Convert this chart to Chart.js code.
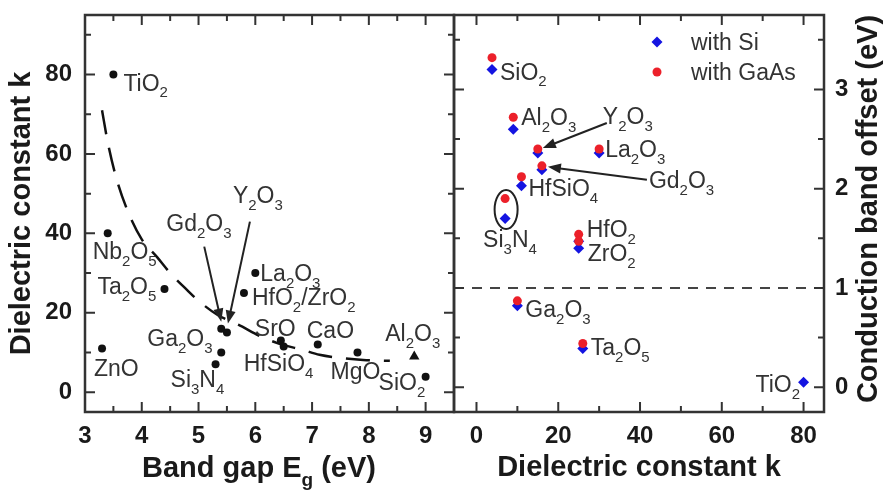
<!DOCTYPE html>
<html>
<head>
<meta charset="utf-8">
<script src="https://cdn.jsdelivr.net/npm/chart.js@4.4.1/dist/chart.umd.min.js"></script>
<style>
  body { margin: 0; background: #fff; }
  #wrap { position: relative; width: 883px; height: 491px; }
  #wrap canvas { position: absolute; left: 0; top: 0; }
</style>
</head>
<body>
<div id="wrap">
  <canvas id="gapChart" width="883" height="491"></canvas>
  <canvas id="offsetChart" width="883" height="491"></canvas>
</div>
<script>
const FONT = '"Liberation Sans", Arial, sans-serif';
const INK = '#1a1a1a';
const LABEL_INK = '#333';
const BLUE = 'rgb(20,20,225)';
const RED = 'rgb(236,32,42)';

// left panel: band gap vs dielectric constant
const oxides  = ['TiO2', 'Nb2O5', 'Ta2O5', 'ZnO', 'Gd2O3', 'Y2O3', 'Ga2O3', 'Si3N4', 'La2O3', 'HfO2/ZrO2', 'SrO', 'HfSiO4', 'CaO', 'MgO', 'Al2O3', 'SiO2'];
const bandGap = [3.5, 3.4, 4.4, 3.3, 5.4, 5.5, 5.4, 5.3, 6.0, 5.8, 6.45, 6.5, 7.1, 7.8, 8.8, 9.0];
const kValue  = [80, 40, 26, 11, 16, 15, 10, 7, 30, 25, 13, 11.5, 12, 10, 9, 3.9];

// dashed trend line
const fitGap = [3.3, 3.4, 3.55, 3.77, 4.0, 4.27, 4.5, 4.8, 5.0, 5.33, 5.7, 6.1, 6.4, 6.84, 7.13, 7.57, 7.9, 8.37];
const fitK   = [71, 63, 54, 45, 38.5, 34, 30, 25.7, 23, 19.5, 17, 14, 12.3, 10.6, 9.4, 8.5, 8.1, 7.9];

const gapRange = [3, 9.5];
const gapMajor = [3, 4, 5, 6, 7, 8, 9];
const gapMinor = [3.5, 4.5, 5.5, 6.5, 7.5, 8.5];
const kRangeLeft = [-5, 95];
const kMajor = [0, 20, 40, 60, 80];
const kMinor = [10, 30, 50, 70, 90];

// right panel: conduction band offset vs k
const cboOxides = ['SiO2', 'Al2O3', 'Y2O3', 'La2O3', 'Gd2O3', 'HfSiO4', 'Si3N4', 'HfO2', 'ZrO2', 'Ga2O3', 'Ta2O5', 'TiO2'];
const cboK     = [3.8, 9, 15, 30, 16, 11, 7, 25, 25, 10, 26, 80];
const cboSi    = [3.2, 2.6, 2.36, 2.36, 2.19, 2.03, 1.7, 1.47, 1.4, 0.82, 0.39, 0.05];
const cboGaAs  = [3.32, 2.72, 2.4, 2.4, 2.23, 2.12, 1.9, 1.54, 1.47, 0.87, 0.44, null];
const cboReference = 1;

const kRangeRight = [-5.5, 85];
const kAxisMajor = [0, 20, 40, 60, 80];
const kAxisMinor = [10, 30, 50, 70];
const cboRange = [-0.25, 3.75];
const cboMajor = [0, 1, 2, 3];
const cboMinor = [0.5, 1.5, 2.5, 3.5];

// label placement (pixel offsets from the labelled point)
const leftLabels = [
  { name: 'TiO2', text: 'TiO_2', dx: 10, dy: 16 },
  { name: 'Nb2O5', text: 'Nb_2O_5', dx: -15, dy: 26 },
  { name: 'Ta2O5', text: 'Ta_2O_5', dx: -67, dy: 5 },
  { name: 'ZnO', text: 'ZnO', dx: -8, dy: 28 },
  { name: 'Gd2O3', text: 'Gd_2O_3', dx: -55, dy: -98, arrow: [-17, -82, 0, -7] },
  { name: 'Y2O3', text: 'Y_2O_3', dx: 6, dy: -130, arrow: [23, -111, 1, -9] },
  { name: 'Ga2O3', text: 'Ga_2O_3', dx: -74, dy: -6 },
  { name: 'Si3N4', text: 'Si_3N_4', dx: -45, dy: 23 },
  { name: 'La2O3', text: 'La_2O_3', dx: 5, dy: 8 },
  { name: 'HfO2/ZrO2', text: 'HfO_2/ZrO_2', dx: 8, dy: 12 },
  { name: 'SrO', text: 'SrO', dx: -26, dy: -5 },
  { name: 'HfSiO4', text: 'HfSiO_4', dx: -40, dy: 25 },
  { name: 'CaO', text: 'CaO', dx: -11, dy: -7 },
  { name: 'MgO', text: 'MgO', dx: -27, dy: 27 },
  { name: 'Al2O3', text: 'Al_2O_3', dx: -29, dy: -15 },
  { name: 'SiO2', text: 'SiO_2', dx: -47, dy: 13 }
];

const rightLabels = [
  { name: 'SiO2', on: 'si', text: 'SiO_2', dx: 8, dy: 10 },
  { name: 'Al2O3', on: 'gaas', text: 'Al_2O_3', dx: 8, dy: 8 },
  { name: 'Y2O3', on: 'gaas', text: 'Y_2O_3', dx: 65, dy: -25, arrow: [69, -26, 5, -1] },
  { name: 'La2O3', on: 'gaas', text: 'La_2O_3', dx: 6, dy: 8 },
  { name: 'Gd2O3', on: 'gaas', text: 'Gd_2O_3', dx: 107, dy: 22, arrow: [105, 14, 6, 1] },
  { name: 'HfSiO4', on: 'si', text: 'HfSiO_4', dx: 7, dy: 10 },
  { name: 'Si3N4', on: 'si', text: 'Si_3N_4', dx: -22, dy: 29, ring: [1, -9, 11.5, 19.5] },
  { name: 'HfO2', on: 'gaas', text: 'HfO_2', dx: 8, dy: 3 },
  { name: 'ZrO2', on: 'si', text: 'ZrO_2', dx: 9, dy: 13 },
  { name: 'Ga2O3', on: 'si', text: 'Ga_2O_3', dx: 8, dy: 11 },
  { name: 'Ta2O5', on: 'si', text: 'Ta_2O_5', dx: 8, dy: 7 },
  { name: 'TiO2', on: 'si', text: 'TiO_2', dx: -48, dy: 10 }
];

// text with "_x" subscripts
function richText(ctx, str, x, y, size, bold) {
  const w = bold ? 'bold ' : '';
  let cx = x;
  for (const p of str.split(/(_.)/).filter(Boolean)) {
    if (p[0] === '_') {
      ctx.font = w + Math.round(size * 0.66) + 'px ' + FONT;
      ctx.fillText(p[1], cx, y + size * 0.3);
      cx += ctx.measureText(p[1]).width;
    } else {
      ctx.font = w + size + 'px ' + FONT;
      ctx.fillText(p, cx, y);
      cx += ctx.measureText(p).width;
    }
  }
}

function drawArrow(ctx, x1, y1, x2, y2) {
  const ang = Math.atan2(y2 - y1, x2 - x1);
  const hl = 13, hw = 5;
  ctx.beginPath();
  ctx.moveTo(x1, y1);
  ctx.lineTo(x2 - Math.cos(ang) * hl * 0.8, y2 - Math.sin(ang) * hl * 0.8);
  ctx.stroke();
  ctx.beginPath();
  ctx.moveTo(x2, y2);
  ctx.lineTo(x2 - Math.cos(ang) * hl - Math.sin(ang) * hw, y2 - Math.sin(ang) * hl + Math.cos(ang) * hw);
  ctx.lineTo(x2 - Math.cos(ang) * hl + Math.sin(ang) * hw, y2 - Math.sin(ang) * hl - Math.cos(ang) * hw);
  ctx.closePath();
  ctx.fill();
}

// frame + inward ticks on all four sides
const frameTicks = {
  id: 'frameTicks',
  afterDatasetsDraw(chart) {
    const { ctx, chartArea: a, scales } = chart;
    ctx.save();
    ctx.strokeStyle = '#333';
    ctx.lineWidth = 2;
    for (const s of Object.values(scales)) {
      for (const t of s.ticks) {
        const len = t.label === '' ? 6 : 10;
        const p = s.getPixelForValue(t.value);
        ctx.beginPath();
        if (s.isHorizontal()) {
          ctx.moveTo(p, a.bottom); ctx.lineTo(p, a.bottom - len);
          ctx.moveTo(p, a.top); ctx.lineTo(p, a.top + len);
        } else {
          ctx.moveTo(a.left, p); ctx.lineTo(a.left + len, p);
          ctx.moveTo(a.right, p); ctx.lineTo(a.right - len, p);
        }
        ctx.stroke();
      }
    }
    ctx.lineWidth = 2.5;
    ctx.strokeRect(a.left, a.top, a.right - a.left, a.bottom - a.top);
    ctx.restore();
  }
};

const gapLabels = {
  id: 'gapLabels',
  afterDraw(chart) {
    const { ctx, scales: { x, y } } = chart;
    ctx.save();
    ctx.fillStyle = LABEL_INK;
    ctx.strokeStyle = '#222';
    ctx.lineWidth = 2;
    for (const L of leftLabels) {
      const i = oxides.indexOf(L.name);
      const px = x.getPixelForValue(bandGap[i]), py = y.getPixelForValue(kValue[i]);
      richText(ctx, L.text, px + L.dx, py + L.dy, 23);
      if (L.arrow) {
        ctx.fillStyle = '#222';
        drawArrow(ctx, px + L.arrow[0], py + L.arrow[1], px + L.arrow[2], py + L.arrow[3]);
        ctx.fillStyle = LABEL_INK;
      }
    }
    ctx.fillStyle = INK;
    richText(ctx, 'Band gap E_g (eV)', 142, 477, 29, true);
    ctx.restore();
  }
};

const offsetLabels = {
  id: 'offsetLabels',
  afterDraw(chart) {
    const { ctx, scales: { x, y } } = chart;
    ctx.save();
    ctx.fillStyle = LABEL_INK;
    ctx.strokeStyle = '#222';
    ctx.lineWidth = 2;
    for (const L of rightLabels) {
      const i = cboOxides.indexOf(L.name);
      const v = (L.on === 'si' ? cboSi : cboGaAs)[i];
      const px = x.getPixelForValue(cboK[i]), py = y.getPixelForValue(v);
      richText(ctx, L.text, px + L.dx, py + L.dy, 23);
      if (L.arrow) {
        ctx.fillStyle = '#222';
        drawArrow(ctx, px + L.arrow[0], py + L.arrow[1], px + L.arrow[2], py + L.arrow[3]);
        ctx.fillStyle = LABEL_INK;
      }
      if (L.ring) {
        ctx.beginPath();
        ctx.ellipse(px + L.ring[0], py + L.ring[1], L.ring[2], L.ring[3], 0, 0, Math.PI * 2);
        ctx.stroke();
      }
    }
    // legend
    const ds = chart.data.datasets;
    [0, 1].forEach((d, k) => {
      const cy = 42 + k * 30;
      ctx.fillStyle = ds[d].backgroundColor;
      Chart.helpers.drawPoint(ctx, { pointStyle: ds[d].pointStyle, radius: ds[d].pointRadius, borderWidth: 0 }, 657, cy);
      ctx.fillStyle = LABEL_INK;
      ctx.font = '23px ' + FONT;
      ctx.textBaseline = 'alphabetic';
      ctx.fillText(ds[d].label, 691, cy + 8);
    });
    // right axis title, reading bottom to top
    ctx.fillStyle = INK;
    ctx.font = 'bold 29px ' + FONT;
    ctx.textAlign = 'center';
    ctx.translate(877, 209);
    ctx.rotate(-Math.PI / 2);
    ctx.fillText('Conduction band offset (eV)', 0, 0);
    ctx.restore();
  }
};

const tickFont = { family: FONT, size: 24, weight: 'bold' };
const titleFont = { family: FONT, size: 29, weight: 'bold' };

function setTicks(major, minor) {
  return s => { s.ticks = major.concat(minor).sort((a, b) => a - b).map(v => ({ value: v })); };
}

// fixed axis box sizes so both plot areas sit where the reference has them
function fixBox(w, h) {
  return s => {
    if (w !== null) s.width = w;
    if (h !== null) s.height = h;
    s.paddingTop = 0; s.paddingBottom = 0; s.paddingLeft = 0; s.paddingRight = 0;
  };
}

new Chart(document.getElementById('gapChart'), {
  type: 'scatter',
  data: {
    datasets: [
      {
        label: 'Oxides',
        data: oxides.map((n, i) => ({ x: bandGap[i], y: kValue[i] })),
        pointStyle: oxides.map(n => n === 'Al2O3' ? 'triangle' : 'circle'),
        pointRadius: oxides.map(n => n === 'Al2O3' ? 6 : 4),
        backgroundColor: '#111',
        borderWidth: 0,
        order: 0
      },
      {
        label: 'Fit',
        data: fitGap.map((g, i) => ({ x: g, y: fitK[i] })),
        showLine: true,
        borderColor: '#111',
        borderWidth: 2.5,
        borderDash: [24, 14],
        pointRadius: 0,
        cubicInterpolationMode: 'monotone',
        order: 1
      }
    ]
  },
  options: {
    responsive: false,
    animation: false,
    events: [],
    layout: { padding: { left: 0, top: 15, right: 883 - 454, bottom: 0 } },
    plugins: { legend: { display: false }, tooltip: { enabled: false } },
    scales: {
      x: {
        type: 'linear', min: gapRange[0], max: gapRange[1],
        afterFit: fixBox(null, 79),
        afterBuildTicks: setTicks(gapMajor, gapMinor),
        ticks: { autoSkip: false, maxRotation: 0, padding: 10, font: tickFont, color: INK,
          callback: v => gapMajor.includes(v) ? String(v) : '' },
        grid: { display: false, drawTicks: false },
        border: { display: false }
      },
      y: {
        type: 'linear', min: kRangeLeft[0], max: kRangeLeft[1],
        afterFit: fixBox(85, null),
        afterBuildTicks: setTicks(kMajor, kMinor),
        ticks: { autoSkip: false, padding: 13, font: tickFont, color: INK,
          callback: v => kMajor.includes(v) ? String(v) : '' },
        grid: { display: false, drawTicks: false },
        border: { display: false },
        title: { display: true, text: 'Dielectric constant k', font: titleFont, color: INK, padding: { top: 5, bottom: 0 } }
      }
    }
  },
  plugins: [frameTicks, gapLabels]
});

new Chart(document.getElementById('offsetChart'), {
  type: 'scatter',
  data: {
    datasets: [
      {
        label: 'with Si',
        data: cboK.map((k, i) => ({ x: k, y: cboSi[i] })),
        pointStyle: 'rectRot',
        pointRadius: 5.5,
        backgroundColor: BLUE,
        borderWidth: 0,
        order: 1
      },
      {
        label: 'with GaAs',
        data: cboK.map((k, i) => ({ x: k, y: cboGaAs[i] })),
        pointStyle: 'circle',
        pointRadius: 4.5,
        backgroundColor: RED,
        borderWidth: 0,
        order: 0
      },
      {
        label: 'reference',
        data: kRangeRight.map(k => ({ x: k, y: cboReference })),
        showLine: true,
        borderColor: '#444',
        borderWidth: 2,
        borderDash: [10, 8],
        pointRadius: 0,
        order: 2
      }
    ]
  },
  options: {
    responsive: false,
    animation: false,
    events: [],
    layout: { padding: { left: 454, top: 15, right: 0, bottom: 0 } },
    plugins: { legend: { display: false }, tooltip: { enabled: false } },
    scales: {
      x: {
        type: 'linear', min: kRangeRight[0], max: kRangeRight[1],
        afterFit: fixBox(null, 79),
        afterBuildTicks: setTicks(kAxisMajor, kAxisMinor),
        ticks: { autoSkip: false, maxRotation: 0, padding: 10, font: tickFont, color: INK,
          callback: v => kAxisMajor.includes(v) ? String(v) : '' },
        grid: { display: false, drawTicks: false },
        border: { display: false },
        title: { display: true, text: 'Dielectric constant k', font: titleFont, color: INK, padding: { top: 0, bottom: 6 } }
      },
      y: {
        type: 'linear', position: 'right', min: cboRange[0], max: cboRange[1],
        afterFit: fixBox(59, null),
        afterBuildTicks: setTicks(cboMajor, cboMinor),
        ticks: { autoSkip: false, padding: 11, font: tickFont, color: INK,
          callback: v => cboMajor.includes(v) ? String(v) : '' },
        grid: { display: false, drawTicks: false },
        border: { display: false }
      }
    }
  },
  plugins: [frameTicks, offsetLabels]
});
</script>
</body>
</html>
